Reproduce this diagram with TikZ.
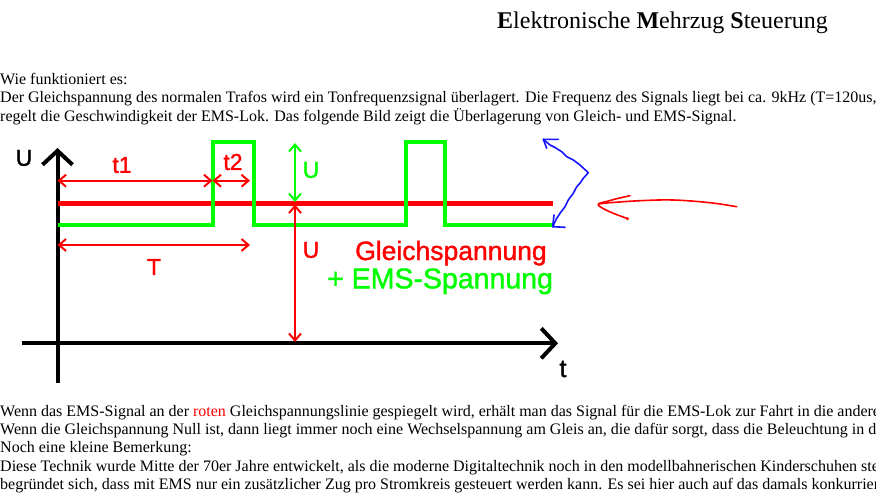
\documentclass[tikz,border=0pt]{standalone}
\usepackage{fontspec}
\setmainfont{Liberation Serif}
\newfontfamily\arialfont{Liberation Sans}[FakeBold=1.4]
\usetikzlibrary{arrows.meta}
\definecolor{sigred}{RGB}{255,0,0}
\definecolor{siggreen}{RGB}{0,255,0}
\definecolor{penblue}{RGB}{20,20,255}
\begin{document}
\begin{tikzpicture}[x=1pt,y=-1pt,
  body/.style={anchor=base west, inner sep=0pt, font=\fontsize{16}{18.4}\selectfont},
  lbl/.style={inner sep=0pt, font=\arialfont\fontsize{23}{23}\selectfont},
  axis/.style={line width=4pt, black, -{Straight Barb[length=14pt,width=30pt]}},
  dimred/.style={sigred, line width=2pt, {Straight Barb[length=7pt,width=12pt]}-{Straight Barb[length=7pt,width=12pt]}},
  dimgreen/.style={siggreen, line width=2pt, {Straight Barb[length=7pt,width=12pt]}-{Straight Barb[length=7pt,width=12pt]}},
  pen/.style={line width=1.6pt, line cap=round, line join=round},
]
\useasboundingbox (0,0) rectangle (876,499);
\clip (0,0) rectangle (876,499);

% title
\node[anchor=base west, inner sep=0pt, font=\fontsize{24}{24}\selectfont] (title) at (497,28)
  {\textbf{E}lektronische \textbf{M}ehrzug \textbf{S}teuerung};

% top text
\node[body] (p1) at (0,84.3) {Wie funktioniert es:};
\node[body] (p2) at (0,102.8) {Der Gleichspannung des normalen Trafos wird ein Tonfrequenzsignal überlagert. Die Frequenz des Signals liegt bei ca. 9kHz (T=120us,};
\node[body] (p3) at (0,121.5) {regelt die Geschwindigkeit der EMS-Lok. Das folgende Bild zeigt die Überlagerung von Gleich- und EMS-Signal.};

% bottom text
\node[body] (q1) at (0,416.7) {Wenn das EMS-Signal an der \textcolor{sigred}{roten} Gleichspannungslinie gespiegelt wird, erhält man das Signal für die EMS-Lok zur Fahrt in die andere};
\node[body] (q2) at (0,434.6) {Wenn die Gleichspannung Null ist, dann liegt immer noch eine Wechselspannung am Gleis an, die dafür sorgt, dass die Beleuchtung in d};
\node[body] (q3) at (0,452.8) {Noch eine kleine Bemerkung:};
\node[body] (q4) at (0,471) {Diese Technik wurde Mitte der 70er Jahre entwickelt, als die moderne Digitaltechnik noch in den modellbahnerischen Kinderschuhen ste};
\node[body] (q5) at (0,489.2) {begründet sich, dass mit EMS nur ein zusätzlicher Zug pro Stromkreis gesteuert werden kann. Es sei hier auch auf das damals konkurrier};

% axes
\coordinate (ybot) at (57.5,383);
\coordinate (ytop) at (57.5,148);
\coordinate (xl) at (21.7,343.3);
\coordinate (xr) at (558,343.3);
\draw[axis] (ybot) -- (ytop);
\draw[axis] (xl) -- (xr);
\node[lbl] (ulab) at (24,158) {U};
\node[lbl, font=\arialfont\fontsize{25}{25}\selectfont] (tlab) at (563,369) {t};

% DC line
\coordinate (dcl) at (57.5,203.3);
\coordinate (dcr) at (553,203.3);
\draw[sigred, line width=4.6pt] (dcl) -- (dcr);

% EMS signal
\draw[siggreen, line width=4pt] (57.5,225) -- (212.8,225) -- (212.8,141.8) -- (253.5,141.8) -- (253.5,225)
  -- (406,225) -- (406,141.8) -- (444.5,141.8) -- (444.5,225) -- (553,225);

% dimension arrows
\coordinate (t1a) at (57.5,180.7);
\coordinate (t1b) at (212.5,180.7);
\coordinate (t2b) at (250,180.7);
\coordinate (Ta) at (57.5,245);
\coordinate (Tb) at (250,245);
\coordinate (ug1) at (295,143);
\coordinate (ug2) at (295,202);
\coordinate (ur1) at (295,204.5);
\coordinate (ur2) at (295,342);
\draw[dimred] (t1a) -- (t1b);
\draw[dimred] (t1b) -- (t2b);
\draw[dimred] (Ta) -- (Tb);
\draw[dimgreen] (ug1) -- (ug2);
\draw[dimred] (ur1) -- (ur2);

\node[lbl, text=sigred] (t1lab) at (122,165) {t1};
\node[lbl, text=sigred] (t2lab) at (233,162) {t2};
\node[lbl, text=sigred] (Tlab) at (154,267) {T};
\node[lbl, text=siggreen] (uglab) at (311,170) {U};
\node[lbl, text=sigred] (urlab) at (311,250) {U};

\node[anchor=base west, inner sep=0pt, text=sigred, font=\arialfont\fontsize{26.5}{26.5}\selectfont] (gl) at (355,260) {Gleichspannung};
\node[anchor=base west, inner sep=0pt, text=siggreen, font=\arialfont\fontsize{28.5}{28.5}\selectfont] (ems) at (327,288.3) {+ EMS-Spannung};

% blue hand-drawn double arrow
\draw[pen, penblue] (543.3,139.3) -- (550,145) -- (555,147.5) -- (561.7,151.7) -- (566.7,156.7) -- (573.3,160) -- (580,165) -- (588.3,172.7)
  -- (583.3,178.3) -- (580,183.3) -- (576.7,186.7) -- (573.3,193.3) -- (568.3,200) -- (565,206.7) -- (560,213.3) -- (556.7,218.3) -- (552.7,226.7);
\draw[pen, penblue] (558.3,139.3) -- (543.3,139.3) -- (546.7,148.3);
\draw[pen, penblue] (565,227.3) -- (552.7,226.7) -- (554,215);

% red hand-drawn arrow
\draw[pen, sigred] plot[smooth, tension=0.6] coordinates {(736.7,206.7) (710,202.7) (673.3,200) (640,200.7) (610,202.7) (598.3,204)};
\draw[pen, sigred] plot[smooth, tension=0.6] coordinates {(630,195.7) (618.3,198.3) (608.3,201) (598.3,204) (601.7,207.7) (613.3,213.3) (626.7,218.3)};
\fill[sigred] (627.5,218.8) circle (1.6);
\end{tikzpicture}
\end{document}
